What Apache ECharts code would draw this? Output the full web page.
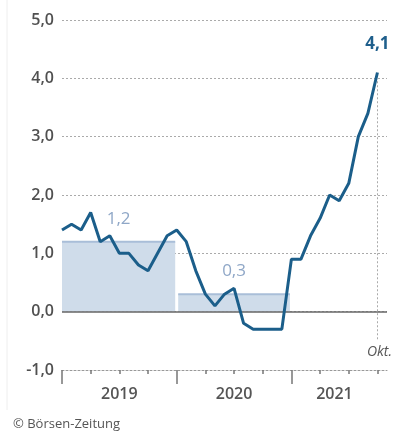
<!DOCTYPE html>
<html><head><meta charset="utf-8">
<script src="https://cdn.jsdelivr.net/npm/echarts@6/dist/echarts.min.js"></script>
<style>html,body{margin:0;padding:0;background:#fff}#c{width:401px;height:434px}</style>
</head><body><div id="c"></div>
<script>
// Monthly inflation (Jan 2019 .. Oct 2021), month index 0..33
const months = ['2019-01','2019-02','2019-03','2019-04','2019-05','2019-06','2019-07','2019-08','2019-09','2019-10','2019-11','2019-12',
'2020-01','2020-02','2020-03','2020-04','2020-05','2020-06','2020-07','2020-08','2020-09','2020-10','2020-11','2020-12',
'2021-01','2021-02','2021-03','2021-04','2021-05','2021-06','2021-07','2021-08','2021-09','2021-10'];
const inflation = [1.4,1.5,1.4,1.7,1.2,1.3,1.0,1.0,0.8,0.7,1.0,1.3,
1.4,1.2,0.7,0.3,0.1,0.3,0.4,-0.2,-0.3,-0.3,-0.3,-0.3,
0.9,0.9,1.3,1.6,2.0,1.9,2.2,3.0,3.4,4.1];
// Annual averages: [start month index, end month index, value]
const yearStart = [0, 12];
const yearEnd = [12, 24];
const yearAvg = [1.2, 0.3];
const yearLabels = ['2019','2020','2021'];
const yearLabelPos = [6, 18, 28.5];
const yTickValues = [-1,0,1,2,3,4,5];
const yTickLabels = ['-1,0','0,0','1,0','2,0','3,0','4,0','5,0'];
const lastLabel = '4,1';
const monthLabel = 'Okt.';

const chart = echarts.init(document.getElementById('c'));
const fmt = v => v.toFixed(1).replace('.', ',');
const lineData = inflation.map((v,i) => [i,v]);
const lastIdx = inflation.length-1;
const barData = yearAvg.map((v,i)=>[yearStart[i], yearEnd[i], v]);
const FONT = 'Open Sans';
chart.setOption({
  animation:false,
  grid:{left:62, right:14, top:20, bottom:64},
  xAxis:[
    {type:'value', min:0, max:34, position:'bottom',
     axisLine:{onZero:false, lineStyle:{color:'#999', type:[2,2]}},
     axisTick:{show:true, length:4, lineStyle:{color:'#777', width:1.5}, customValues:[0,3,6,9,12,15,18,21,24,27,30,33]},
     axisLabel:{show:false}, splitLine:{show:false}},
    {type:'value', min:0, max:34, position:'bottom',
     axisLine:{show:false, onZero:false},
     axisTick:{show:true, length:14, lineStyle:{color:'#777', width:1.5}, customValues:[0,12,24]},
     axisLabel:{show:false}, splitLine:{show:false}},
    {type:'value', min:0, max:34, position:'bottom',
     axisLine:{show:false, onZero:false}, axisTick:{show:false}, splitLine:{show:false},
     axisLabel:{show:true, customValues:yearLabelPos, margin:16, color:'#555', fontSize:16, fontFamily:FONT, fontWeight:600,
       formatter:v=>{const k=yearLabelPos.indexOf(v);return k>=0?yearLabels[k]:'';}}}
  ],
  yAxis:{type:'value', min:-1, max:5, interval:1,
    axisLine:{show:false}, axisTick:{show:false},
    splitLine:{lineStyle:{color:'#aaa', type:[2,2]}},
    axisLabel:{margin:8, color:'#505050', fontSize:16, fontFamily:FONT, fontWeight:600,
      formatter:v=>{const k=yTickValues.indexOf(v);return k>=0?yTickLabels[k]:fmt(v);}}},
  series:[
    {type:'custom', xAxisIndex:0, z:1, data:barData,
     renderItem:(params, api)=>{
       const p0 = api.coord([api.value(0), api.value(2)]);
       const p1 = api.coord([api.value(1), 0]);
       const x0 = p0[0] + (api.value(0) > 0 ? 1.5 : 0), x1 = p1[0] - 1.5;
       return {type:'group', children:[
         {type:'rect', shape:{x:x0, y:p0[1], width:x1-x0, height:p1[1]-p0[1]}, style:{fill:'#cfdcea'}},
         {type:'line', shape:{x1:x0, y1:p0[1], x2:x1, y2:p0[1]}, style:{stroke:'#a9bed8', lineWidth:2}},
         {type:'text', x:(x0+x1)/2, y:p0[1]-23, style:{text:fmt(api.value(2)), fill:'#8fa7c7', fontSize:17, fontFamily:FONT, align:'center', verticalAlign:'middle'}}
       ]};
     }},
    {type:'line', xAxisIndex:0, z:3, data:lineData, showSymbol:false, symbol:'none',
     lineStyle:{color:'#1b5e8a', width:3},
     markPoint:{silent:true, symbol:'circle', symbolSize:1, itemStyle:{color:'transparent'},
       data:[{coord:[lastIdx, inflation[lastIdx]], label:{show:true, formatter:lastLabel, position:'inside', offset:[0,-28],
         color:'#1f5f8c', fontSize:17, fontWeight:'bold', fontFamily:FONT}}]},
     markLine:{silent:true, symbol:'none', label:{show:false}, z:2,
       data:[
         [{coord:[0,0], lineStyle:{color:'#666', width:1.5, type:'solid'}},{coord:[34,0]}],
         [{coord:[33,3.95], lineStyle:{color:'#aaa', width:1, type:[2,2]}},{coord:[33,-0.5]}]
       ]}}
  ],
  graphic:[
    {type:'text', right:9, top:345, style:{text:monthLabel, fill:'#555', fontSize:14, fontStyle:'italic', fontFamily:FONT}},
    {type:'text', left:13, top:418, style:{text:'© Börsen-Zeitung', fill:'#555', fontSize:13, fontFamily:FONT}},
    {type:'line', shape:{x1:7, y1:0, x2:7, y2:410}, style:{stroke:'#eee', lineWidth:1}}
  ]
});
</script></body></html>
